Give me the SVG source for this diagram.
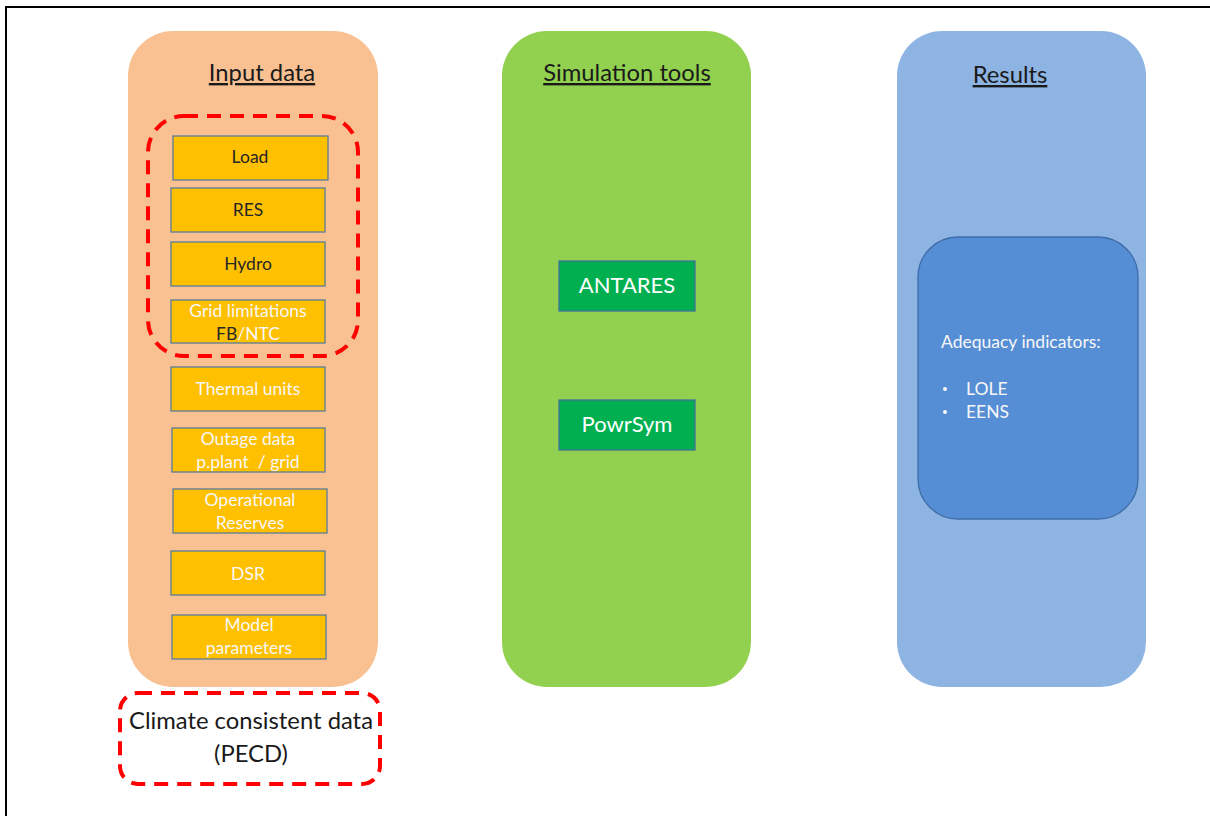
<svg xmlns="http://www.w3.org/2000/svg" width="1210" height="816" viewBox="0 0 1210 816">
<style>
text{font-family:Lato,"Liberation Sans",sans-serif}
.panel{stroke:none}
.ttl{font-size:23.8px;fill:#1a1a1a;text-anchor:middle;text-decoration:underline}
.ob{fill:#FFC000;stroke:#5B7B9A;stroke-width:1.3}
.dk{font-size:17.5px;fill:#262626;text-anchor:middle}
.wt{font-size:17.5px;fill:#F7F7F7;text-anchor:middle}
.dash{fill:none;stroke:#FF0000;stroke-width:4;stroke-dasharray:14 9}
.gb{fill:#00B050;stroke:#41719C;stroke-width:1.3}
.gt{font-size:22px;fill:#FFFFFF;text-anchor:middle}
.at{font-size:17.5px;fill:#F7F7F7}
</style>
<rect width="1210" height="816" fill="#FFFFFF"/>
<path d="M6,816 V7 H1210" fill="none" stroke="#000" stroke-width="2"/>
<g id="input-data">
<rect class="panel" x="128" y="31" width="250" height="656" rx="45" fill="#F9C192"/>
<text class="ttl" x="262" y="81">Input data</text>
</g>
<g id="weather-group">
<rect class="dash" x="148" y="116" width="210" height="240" rx="36"/>
</g>
<g id="load"><rect class="ob" x="173" y="136" width="155" height="44"/><text class="dk" x="250" y="163">Load</text></g>
<g id="res"><rect class="ob" x="171" y="188" width="154" height="44"/><text class="dk" x="248" y="216">RES</text></g>
<g id="hydro"><rect class="ob" x="171" y="242" width="154" height="44"/><text class="dk" x="248" y="270">Hydro</text></g>
<g id="grid"><rect class="ob" x="171" y="300" width="154" height="43"/><text class="wt" x="248" y="317">Grid limitations</text><text class="wt" x="248" y="340"><tspan fill="#262626">FB</tspan>/NTC</text></g>
<g id="thermal"><rect class="ob" x="171" y="367" width="154" height="44"/><text class="wt" x="248" y="395">Thermal units</text></g>
<g id="outage"><rect class="ob" x="172" y="428" width="153" height="44"/><text class="wt" x="248" y="445">Outage data</text><text class="wt" x="248" y="468" xml:space="preserve">p.plant  / grid</text></g>
<g id="reserves"><rect class="ob" x="173" y="489" width="154" height="44"/><text class="wt" x="250" y="506">Operational</text><text class="wt" x="250" y="529">Reserves</text></g>
<g id="dsr"><rect class="ob" x="171" y="551" width="154" height="44"/><text class="wt" x="248" y="580">DSR</text></g>
<g id="model"><rect class="ob" x="172" y="615" width="154" height="44"/><text class="wt" x="249" y="631">Model</text><text class="wt" x="249" y="654">parameters</text></g>
<g id="climate">
<rect class="dash" x="120" y="693" width="260" height="91" rx="18"/>
<text x="251" y="729" font-size="23.8" fill="#1a1a1a" text-anchor="middle">Climate consistent data</text>
<text x="251" y="762" font-size="23.8" fill="#1a1a1a" text-anchor="middle">(PECD)</text>
</g>
<g id="simulation-tools">
<rect class="panel" x="502" y="31" width="249" height="656" rx="45" fill="#92D050"/>
<text class="ttl" x="627" y="81">Simulation tools</text>
</g>
<g id="antares"><rect class="gb" x="559" y="261" width="136" height="50"/><text class="gt" x="627" y="293">ANTARES</text></g>
<g id="powrsym"><rect class="gb" x="559" y="400" width="136" height="50"/><text class="gt" x="627" y="432">PowrSym</text></g>
<g id="results">
<rect class="panel" x="897" y="31" width="249" height="656" rx="45" fill="#8EB4E3"/>
<text class="ttl" x="1010" y="83">Results</text>
</g>
<g id="adequacy">
<rect x="918" y="237" width="220" height="282" rx="40" fill="#558ED5" stroke="#3F6CA8" stroke-width="1.3"/>
<text class="at" x="941" y="348">Adequacy indicators:</text>
<circle cx="945" cy="389" r="2" fill="#F7F7F7"/>
<circle cx="945" cy="412" r="2" fill="#F7F7F7"/>
<text class="at" x="966" y="395">LOLE</text>
<text class="at" x="966" y="418">EENS</text>
</g>
<g id="connectors"></g>
</svg>
